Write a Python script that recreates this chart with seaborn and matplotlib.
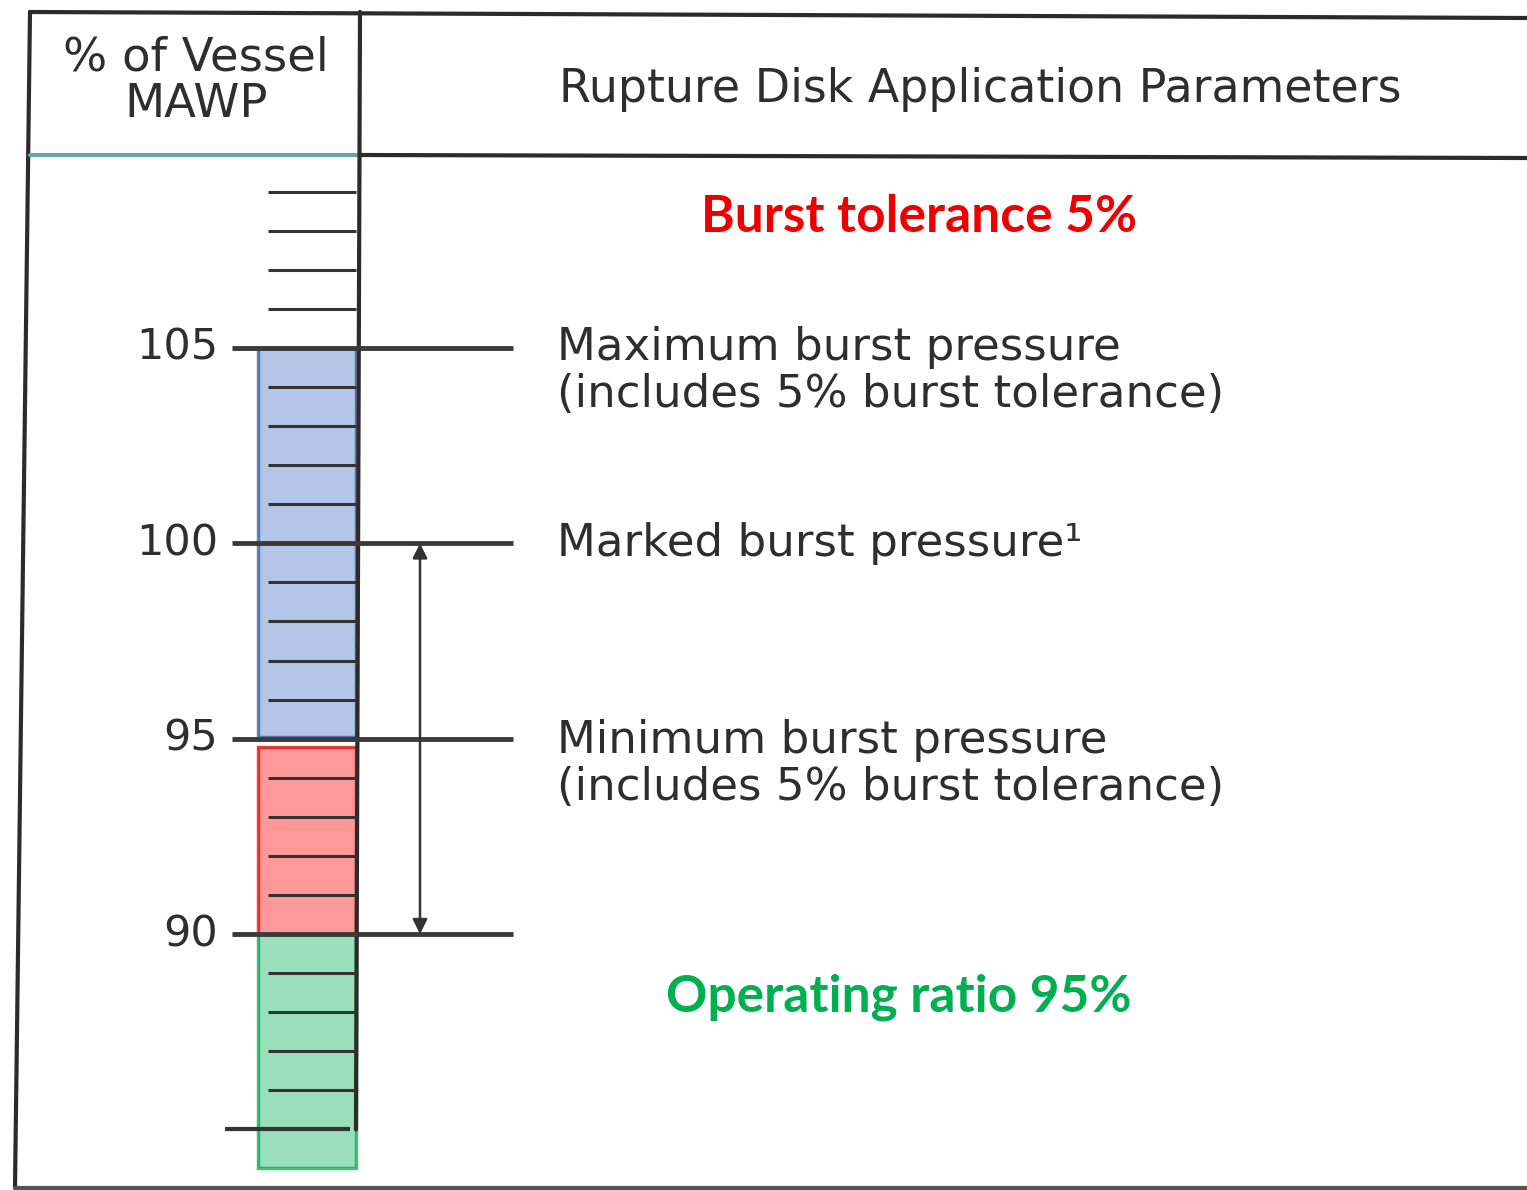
import numpy as np
import seaborn as sns
import matplotlib.pyplot as plt

# scale values (% of vessel MAWP)
major_ticks = [105, 100, 95, 90]
major_labels = ["105", "100", "95", "90"]
minor_ticks = [109, 108, 107, 106, 104, 103, 102, 101, 99, 98, 97, 96,
               94, 93, 92, 91, 89, 88, 87, 86]
scale_bottom = 85

# coloured bands: (bottom, top)
band_bottoms = [95.05, 90, 84]
band_tops = [105, 94.8, 90]
band_colors = ["#4472c4", "#ff0000", "#00b050"]
band_edges = ["#2f5597", "#e00000", "#00a04a"]

# parameter labels, one per major level
param_levels = [105, 100, 95]
param_labels = ["Maximum burst pressure\n(includes 5% burst tolerance)",
                "Marked burst pressure\u00b9",
                "Minimum burst pressure\n(includes 5% burst tolerance)"]
param_offsets = [-0.6, 0.0, -0.65]

arrow_range = (100, 90)
header_left = "% of Vessel\nMAWP"
header_right = "Rupture Disk Application Parameters"
note_top = "Burst tolerance 5%"
note_bottom = "Operating ratio 95%"

sns.set_theme(style="white")
plt.rcParams['font.family'] = ['DejaVu Sans']

W, H = 1527, 1190
fig = plt.figure(figsize=(W / 100, H / 100), dpi=100)
ax = fig.add_axes([0, 0, 1, 1])
ax.set_xlim(0, W)
px_per_unit = 39.07
ax.set_ylim(105 - (H - 348) / px_per_unit, 105 + 348 / px_per_unit)
ax.axis("off")


def py(p):
    # pixel row -> value, for the frame layout only
    return 105 - (p - 348) / px_per_unit


frame = "#2b2b2b"
txt = "#2e2e2e"
# outer frame
ax.plot([30, 15], [py(12), py(1188)], color=frame, lw=3)
ax.plot([30, W], [py(12), py(18)], color=frame, lw=3)
ax.plot([15, W], [py(1188), py(1188)], color="#555555", lw=3)
ax.plot([30, 360], [py(155), py(155)], color="#5fa8a0", lw=3)
ax.plot([360, W], [py(155), py(158)], color=frame, lw=3)
# column divider / scale spine
ax.plot([360, 356], [py(12), scale_bottom], color=frame, lw=3)

# minor ticks
ax.hlines(minor_ticks, 268, 356, color="#333333", lw=2.2)
ax.hlines([scale_bottom], 225, 350, color="#333333", lw=3)
# major ticks with leaders
ax.hlines(major_ticks, 232, 513, color="#3a3a3a", lw=3.5)
for v, lab in zip(major_ticks, major_labels):
    ax.text(218, v, lab, ha="right", va="center", fontsize=31, color=txt)

# bands
for b, t, c, e in zip(band_bottoms, band_tops, band_colors, band_edges):
    ax.bar(307, t - b, bottom=b, width=98, color=c, alpha=0.4,
           edgecolor="none")
    ax.bar(307, t - b, bottom=b, width=98, fill=False, edgecolor=e,
           lw=2.5, alpha=0.7)

# double arrow between marked and operating level
ax.annotate("", xy=(420, arrow_range[1]), xytext=(420, arrow_range[0]),
            arrowprops=dict(arrowstyle="<|-|>", color="#333333", lw=1.8,
                            mutation_scale=22, shrinkA=0, shrinkB=0))

# header
ax.text(196, py(81), header_left, ha="center", va="center", fontsize=33.5,
        color=txt, linespacing=1.05)
ax.text(980, py(90), header_right, ha="center", va="center", fontsize=33,
        color=txt)

# parameter labels
for v, lab, off in zip(param_levels, param_labels, param_offsets):
    ax.text(557, v + off, lab, ha="left", va="center", fontsize=32.5,
            color=txt, linespacing=1.12)

# notes
ax.text(919, py(217), note_top, ha="center", va="center", fontsize=37,
        fontweight="bold", color="#ee0000", family=["Lato", "DejaVu Sans"])
ax.text(899, py(997), note_bottom, ha="center", va="center", fontsize=37,
        fontweight="bold", color="#00b050", family=["Lato", "DejaVu Sans"])

fig.savefig("out.png", dpi=100, facecolor="white")
